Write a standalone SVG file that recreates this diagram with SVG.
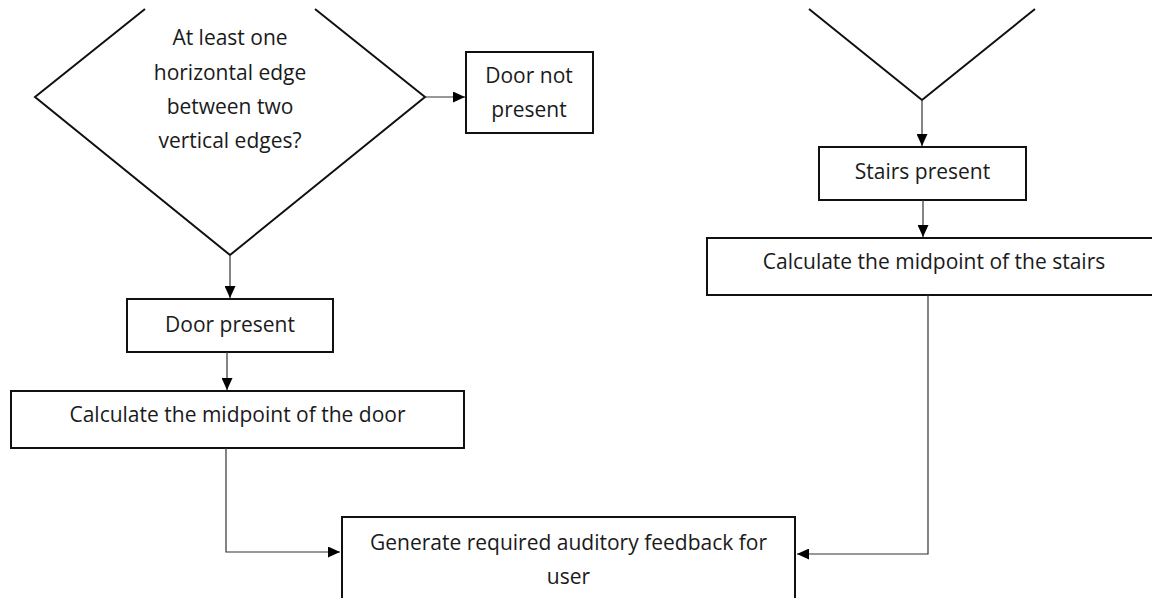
<svg xmlns="http://www.w3.org/2000/svg" width="1152" height="598" viewBox="0 0 1152 598">
<style>
.box{fill:#fff;stroke:#111;stroke-width:2}
.dia{fill:none;stroke:#111;stroke-width:2}
.con{fill:none;stroke:#333;stroke-width:1.2}
text{font-family:"Open Sans","Liberation Sans",sans-serif;font-size:21px;fill:#1a1a1a;text-anchor:middle}
</style>
<defs>
<marker id="ah" markerUnits="userSpaceOnUse" markerWidth="13" markerHeight="11" refX="12" refY="5.5" orient="auto">
<path d="M0,0 L12,5.5 L0,11 Z" fill="#000"/>
</marker>
</defs>
<rect width="1152" height="598" fill="#fff"/>
<g id="decision-door">
<polyline class="dia" points="145,9 35,97 230,255 425,97 315,9"/>
<text x="230" y="45">At least one</text>
<text x="230" y="80">horizontal edge</text>
<text x="230" y="114">between two</text>
<text x="230" y="148">vertical edges?</text>
</g>
<g id="decision-stairs">
<polyline class="dia" points="809,9 922,100 1035,9"/>
</g>
<g id="door-not-present">
<rect class="box" x="466" y="52" width="127" height="81"/>
<text x="529" y="83">Door not</text>
<text x="529" y="117">present</text>
</g>
<g id="door-present">
<rect class="box" x="127" y="299" width="206" height="53"/>
<text x="230" y="332">Door present</text>
</g>
<g id="calc-door">
<rect class="box" x="11" y="391" width="453" height="57"/>
<text x="237.5" y="422">Calculate the midpoint of the door</text>
</g>
<g id="stairs-present">
<rect class="box" x="819" y="147" width="207" height="53"/>
<text x="922.5" y="179">Stairs present</text>
</g>
<g id="calc-stairs">
<rect class="box" x="707" y="238" width="455" height="57"/>
<text x="934" y="269">Calculate the midpoint of the stairs</text>
</g>
<g id="feedback">
<rect class="box" x="342" y="517" width="453" height="90"/>
<text x="568.5" y="550">Generate required auditory feedback for</text>
<text x="568.5" y="584">user</text>
</g>
<g id="connectors">
<path class="con" d="M425,97 H465" marker-end="url(#ah)"/>
<path class="con" d="M230,256 V298" marker-end="url(#ah)"/>
<path class="con" d="M227,352 V390" marker-end="url(#ah)"/>
<path class="con" d="M226,448 V552 H340" marker-end="url(#ah)"/>
<path class="con" d="M922,101 V146" marker-end="url(#ah)"/>
<path class="con" d="M923,200 V237" marker-end="url(#ah)"/>
<path class="con" d="M928,295 V554 H797" marker-end="url(#ah)"/>
</g>
</svg>
